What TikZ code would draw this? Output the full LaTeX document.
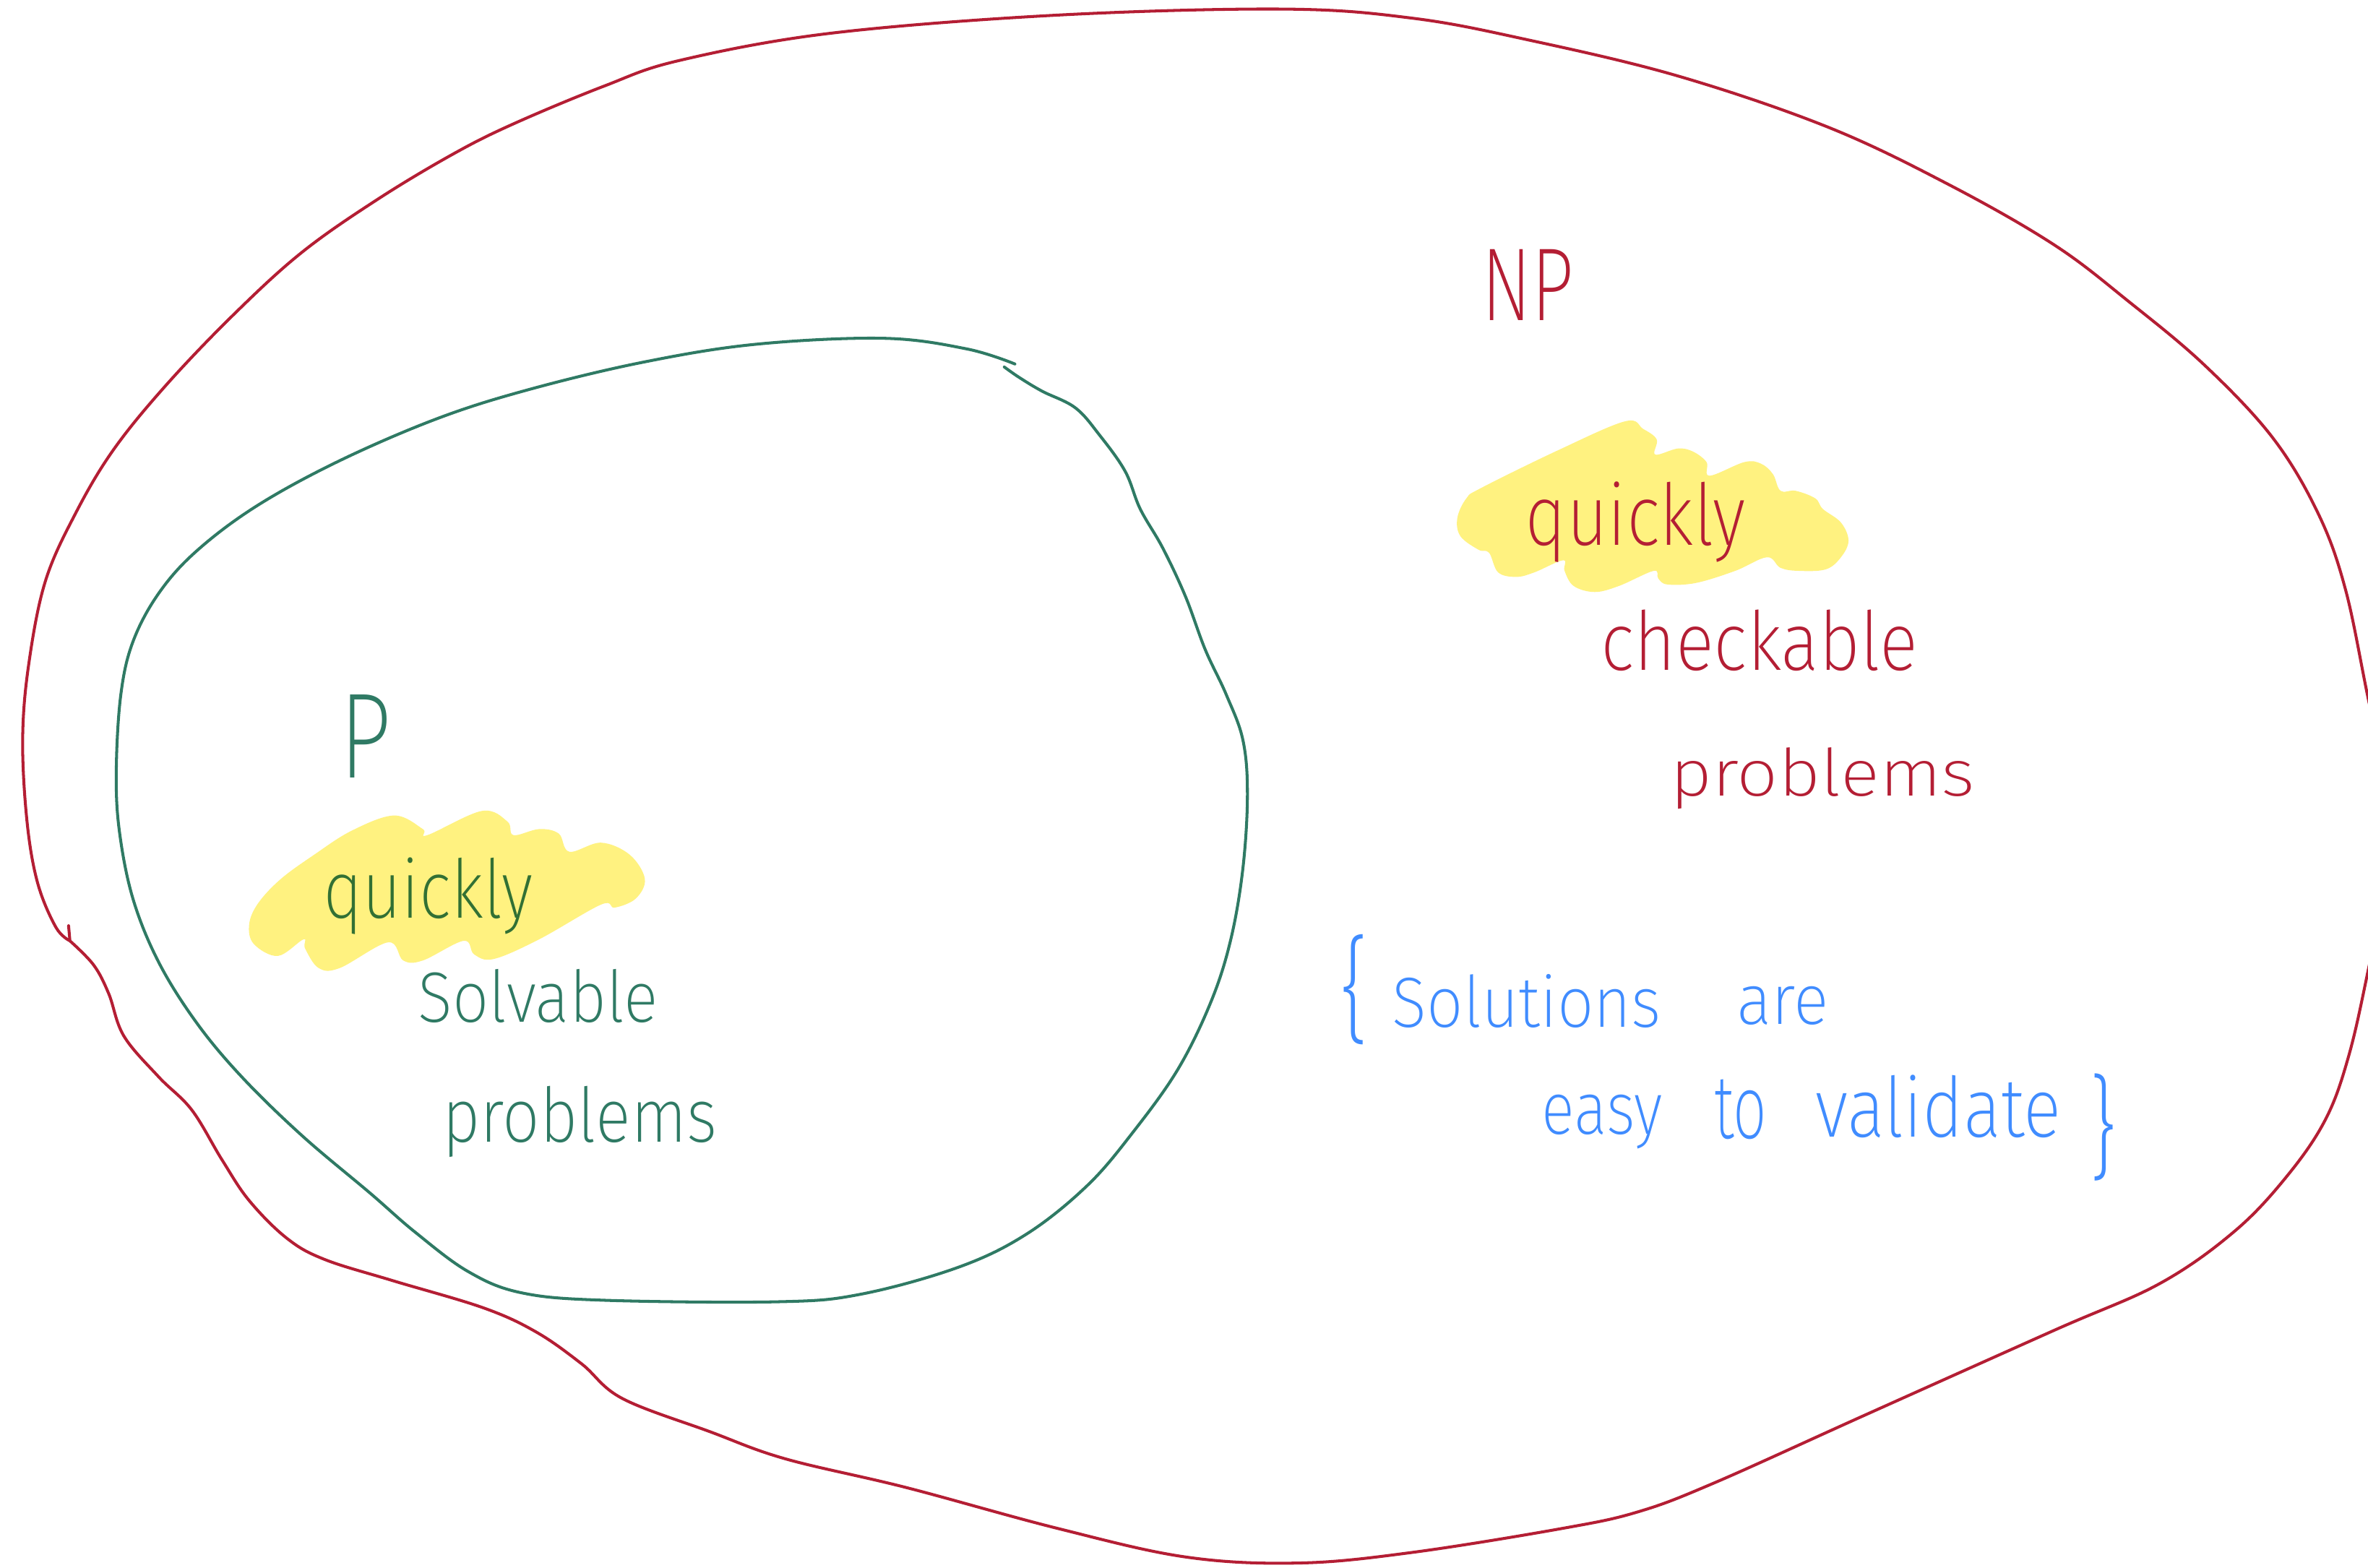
\documentclass[tikz,border=0pt]{standalone}
\usepackage{fontspec}
\setmainfont{Fira Sans ExtraLight}
\usepackage{graphicx}

\definecolor{npred}{RGB}{180,30,52}
\definecolor{pteal}{RGB}{47,122,100}
\definecolor{qgreen}{RGB}{50,112,52}
\definecolor{noteblue}{RGB}{64,140,255}
\definecolor{marker}{RGB}{255,242,128}

% one drawing unit, used to size the hand-lettered words
\newlength\pxu
\setlength\pxu{0.01cm}
\newcommand\handword[3]{\resizebox{#1\pxu}{#2\pxu}{#3}}

\tikzset{
  pen/.style={line width=0.55pt, line cap=round, line join=round},
  word/.style={inner sep=0pt, outer sep=0pt, anchor=base west},
  bracemark/.style={inner sep=0pt, outer sep=0pt, anchor=north west, text=noteblue},
  highlight/.style={fill=marker, draw=none},
}

\begin{document}
\begin{tikzpicture}[x=0.01cm, y=-0.01cm]
  \useasboundingbox (0,0) rectangle (1568,1038);
  \fill[white] (0,0) rectangle (1568,1038);
  \clip (0,0) rectangle (1568,1038);

  % marker highlights behind the word "quickly"
  \fill[highlight] plot[smooth cycle, tension=0.6] coordinates {
    (165,612) (171,598) (186,582) (208,566) (233,550) (261,540) (280,549)
    (283,553) (319,537) (336,544) (340,553) (357,549) (370,552) (377,564)
    (398,558) (417,566) (427,582) (421,595) (407,601) (398,599) (357,622)
    (327,635) (314,632) (307,623) (280,636) (267,636) (257,624) (225,641)
    (211,641) (202,628) (201,622) (184,633) (168,625)};
  \fill[highlight] plot[smooth cycle, tension=0.6] coordinates {
    (965,343) (971,330) (981,323) (1032,298) (1076,279) (1088,284) (1097,291)
    (1096,301) (1111,297) (1121,299) (1130,306) (1132,315) (1155,306)
    (1166,307) (1174,314) (1179,325) (1189,325) (1202,330) (1207,337)
    (1219,346) (1224,358) (1219,369) (1209,377) (1191,378) (1179,376)
    (1170,369) (1149,378) (1123,386) (1104,387) (1098,383) (1095,378)
    (1072,388) (1056,392) (1042,388) (1036,378) (1035,371) (1016,379)
    (1004,382) (992,379) (986,366) (979,364) (967,355)};

  % outer set: NP
  \draw[pen, npred] (45.4,613) -- (46.3,623)
    plot[smooth, tension=0.6] coordinates {
    (46.3,623) (62,639) (72,658) (82,686) (105,713) (127,735) (147,768)
    (165,795) (190,820) (215,834) (260,848) (320,866) (355,882) (385,903)
    (412,926) (470,948) (520,966) (600,985) (700,1012) (785,1031) (860,1035)
    (935,1028) (1035,1012) (1085,1001) (1135,982) (1235,937) (1360,881)
    (1430,850) (1480,815) (1515,778) (1540,741) (1555,700) (1568,643)
    (1586,550) (1568,462) (1553,390) (1535,340) (1505,290) (1460,242)
    (1410,200) (1360,162) (1290,122) (1210,84) (1110,50) (1010,26) (935,12)
    (850,6) (700,10) (550,22) (450,40) (400,57) (340,82) (300,102) (250,132)
    (200,167) (155,208) (110,255) (75,298) (50,340) (30,385) (19,440)
    (15,490) (18,545) (25,585) (37,614) (46.3,623)};

  % inner set: P
  \draw[pen, pteal] plot[smooth, tension=0.6] coordinates {
    (672,241) (640,231) (585,224) (500,228) (425,240) (350,258) (290,277)
    (225,305) (170,335) (130,365) (105,393) (88,425) (80,460) (77,510)
    (79,550) (88,595) (105,637) (130,677) (160,713) (200,752) (245,790)
    (275,816) (310,842) (345,856) (400,861) (515,862) (570,857) (635,839)
    (680,817) (720,785) (750,750) (780,708) (802,663) (815,622) (823,575)
    (826,526) (823,490) (812,460) (798,430) (785,395) (770,363) (755,337)
    (745,312) (728,288) (712,270) (690,259) (675,250) (665,243)};

  % labels of P
  \node[word, text=pteal] (pLabel) at (225,515) {\handword{34}{55}{P}};
  \node[word, text=qgreen] (pQuick) at (214,608) {\handword{139}{40}{quickly}};
  \node[word, text=pteal] (pSolv) at (277,677) {\handword{159}{35}{Solvable}};
  \node[word, text=pteal] (pProb) at (293,756) {\handword{182}{37}{problems}};

  % labels of NP
  \node[word, text=npred] (npLabel) at (981,212) {\handword{61}{47}{NP}};
  \node[word, text=npred] (npQuick) at (1010,361) {\handword{146}{42}{quickly}};
  \node[word, text=npred] (npCheck) at (1060,444) {\handword{210}{40}{checkable}};
  \node[word, text=npred] (npProb) at (1106,527) {\handword{202}{32}{problems}};

  % side note
  \node[bracemark] (lBrace) at (887,619) {\resizebox*{20\pxu}{73\pxu}{\{}};
  \node[word, text=noteblue] (wSolutions) at (922,680) {\handword{178}{35}{Solutions}};
  \node[word, text=noteblue] (wAre) at (1150,678) {\handword{61}{25}{are}};
  \node[word, text=noteblue] (wEasy) at (1021,751) {\handword{80}{26}{easy}};
  \node[word, text=noteblue] (wTo) at (1135,754) {\handword{35}{39}{to}};
  \node[word, text=noteblue] (wValidate) at (1202,753) {\handword{163}{41}{validate}};
  \node[bracemark] (rBrace) at (1383,711) {\resizebox*{19\pxu}{71\pxu}{\}}};
\end{tikzpicture}
\end{document}
